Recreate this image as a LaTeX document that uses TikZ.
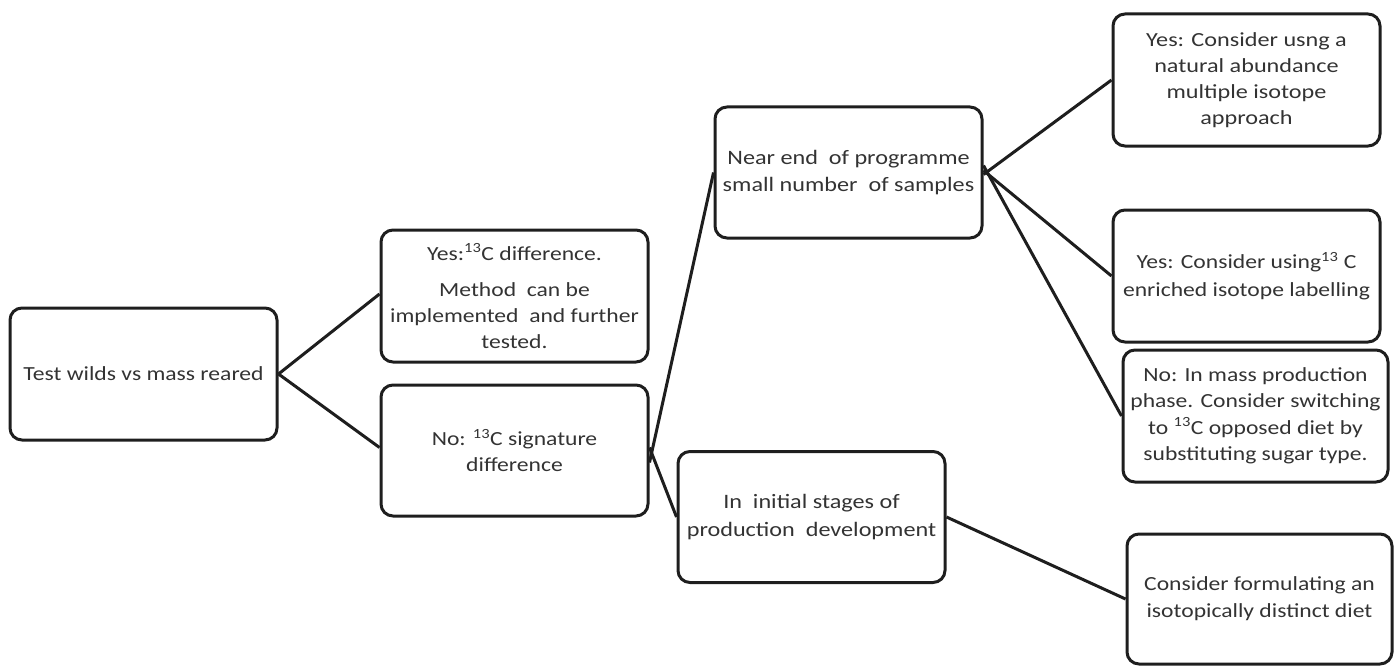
\documentclass[tikz,border=0pt]{standalone}
\usepackage{fontspec}
\setmainfont{Carlito}
\newfontfamily\wideA{Carlito}[FakeStretch=1.18]
\newfontfamily\wideB{Carlito}[FakeStretch=1.21]
\definecolor{ink}{HTML}{1E1E1E}
\definecolor{txt}{HTML}{333333}
\begin{document}
\begin{tikzpicture}[x=1pt,y=-1pt,
  box/.style={draw=ink, line width=3pt, rounded corners=12pt, align=center,
    inner sep=1pt, text=txt, font=\wideA\fontsize{20}{26}\selectfont},
  rbox/.style={box, font=\wideB\fontsize{20}{26.5}\selectfont},
  link/.style={draw=ink, line width=3pt}]
\useasboundingbox (0,0) rectangle (1396,666);
\node[box, minimum width=267pt, minimum height=132pt] (A) at (143.5,374) {Test wilds vs mass reared};
\node[box, minimum width=267pt, minimum height=132pt] (B) at (514.5,296) {Yes:\textsuperscript{13}C difference.\\[10pt] Method\ \ can be\\ implemented\ \ and further\\ tested.};
\node[box, minimum width=267pt, minimum height=131pt] (C) at (514.5,450.5) {No: \textsuperscript{13}C signature\\ difference};
\node[box, minimum width=267pt, minimum height=131pt, font=\wideA\fontsize{20.5}{27}\selectfont] (D) at (848.5,172.5) {Near end\ \ of programme\\ small number\ \ of samples};
\node[box, minimum width=267pt, minimum height=131pt, font=\wideA\fontsize{20.5}{28}\selectfont] (E) at (811.5,517) {In\ \ initial stages of\\ production\ \ development};
\node[rbox, minimum width=267pt, minimum height=132pt, font=\wideB\fontsize{20}{26}\selectfont] (F) at (1246.5,80) {Yes: Consider usng a\\ natural abundance\\ multiple isotope\\ approach};
\node[rbox, minimum width=267pt, minimum height=132pt, font=\wideA\fontsize{20}{28}\selectfont] (G) at (1246.5,276) {Yes: Consider using\textsuperscript{13} C\\ enriched\ isotope labelling};
\node[rbox, minimum width=265pt, minimum height=132pt, font=\wideA\fontsize{20}{26.5}\selectfont] (H) at (1255.5,416) {No: In mass production\\ phase. Consider switching\\ to \textsuperscript{13}C opposed diet by\\ substituting sugar type.};
\node[rbox, minimum width=265pt, minimum height=130pt, font=\wideA\fontsize{20}{27}\selectfont] (I) at (1259.5,599) {Consider formulating an\\ isotopically distinct diet};
\draw[link] (A.east) -- ([yshift=2pt]B.west);
\draw[link] (A.east) -- ([yshift=3pt]C.west);
\draw[link] ([yshift=-12pt]C.east) -- (D.west);
\draw[link] ([yshift=3pt]C.east) -- (E.west);
\draw[link] ([yshift=-2pt]D.east) -- (F.west);
\draw[link] ([yshift=2pt]D.east) -- (G.west);
\draw[link] ([yshift=7pt]D.east) -- (H.west);
\draw[link] (E.east) -- (I.west);
\end{tikzpicture}
\end{document}
